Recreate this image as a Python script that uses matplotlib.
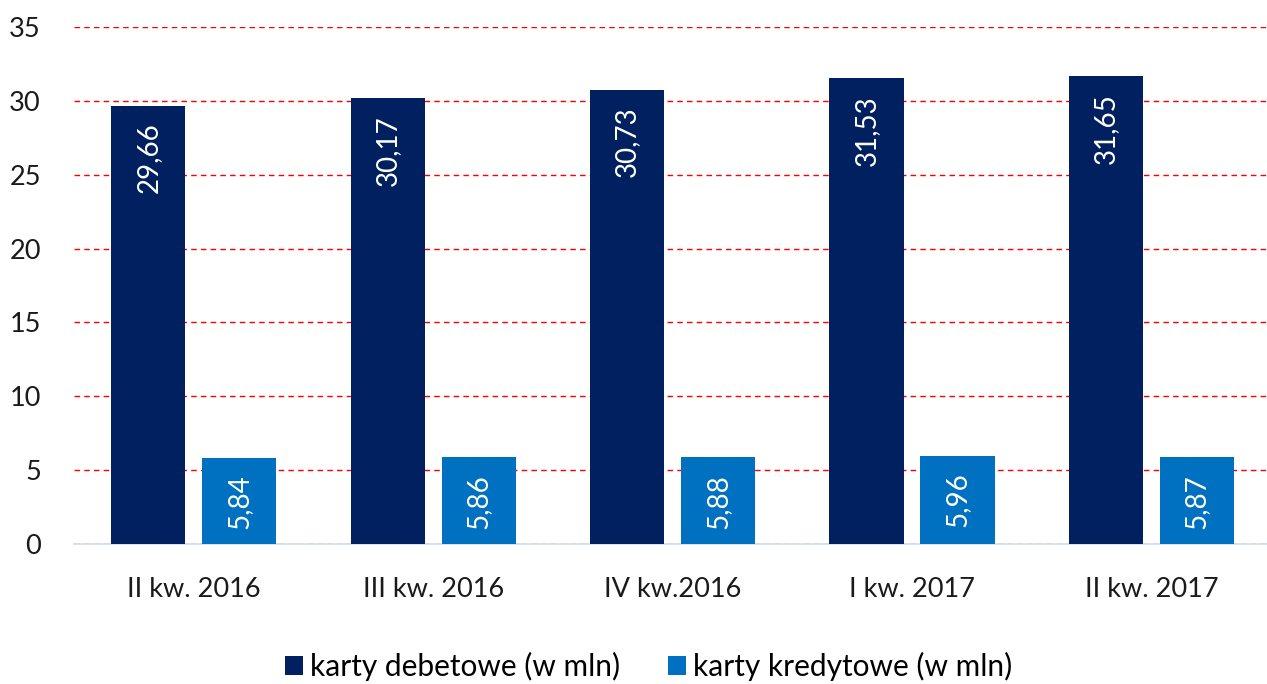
import numpy as np
import matplotlib.pyplot as plt

plt.rcParams["font.family"] = ["Lato", "DejaVu Sans"]

categories = ["II kw. 2016", "III kw. 2016", "IV kw.2016", "I kw. 2017", "II kw. 2017"]
debit = [29.66, 30.17, 30.73, 31.53, 31.65]
credit = [5.84, 5.86, 5.88, 5.96, 5.87]
labels_debit = ["29,66", "30,17", "30,73", "31,53", "31,65"]
labels_credit = ["5,84", "5,86", "5,88", "5,96", "5,87"]

fig = plt.figure(figsize=(12.67, 6.84), dpi=100)
ax = fig.add_axes([0.0585, 0.2047, 0.9447, 0.7558])

x = np.arange(len(categories))
w = 0.31
off = 0.19
b1 = ax.bar(x - off, debit, w, color="#002060", label="karty debetowe (w mln)", zorder=3)
b2 = ax.bar(x + off, credit, w, color="#0070C0", label="karty kredytowe (w mln)", zorder=3)

# value labels inside the top of each bar
for bars, labs in [(b1, labels_debit), (b2, labels_credit)]:
    for rect, lab in zip(bars, labs):
        ax.annotate(lab, (rect.get_x() + rect.get_width() / 2, rect.get_height()),
                    xytext=(0, -12), textcoords="offset points",
                    rotation=90, ha="center", va="top", color="white", fontsize=20, zorder=4)

ax.set_ylim(0, 35)
ax.set_yticks(range(0, 36, 5))
ax.set_xlim(-0.5, len(categories) - 0.5)
ax.set_xticks(x)
ax.set_xticklabels(categories)
ax.tick_params(axis="both", length=0, labelsize=19.5, labelcolor="#1a1a1a")
ax.tick_params(axis="x", pad=24)
ax.tick_params(axis="y", pad=24)

ax.grid(axis="y", color="#FF0000", linestyle=(0, (4, 3)), linewidth=1.0, zorder=0)
ax.set_axisbelow(True)
for s in ["top", "right", "left"]:
    ax.spines[s].set_visible(False)
ax.spines["bottom"].set_color("#D0DCEC")
ax.spines["bottom"].set_linewidth(1.2)

fig.legend(loc="center", bbox_to_anchor=(0.512, 0.025), ncol=2, frameon=False,
           fontsize=21.5, handlelength=0.6, handleheight=0.6, handletextpad=0.25,
           columnspacing=1.6)

fig.savefig("out.png", dpi=100)
